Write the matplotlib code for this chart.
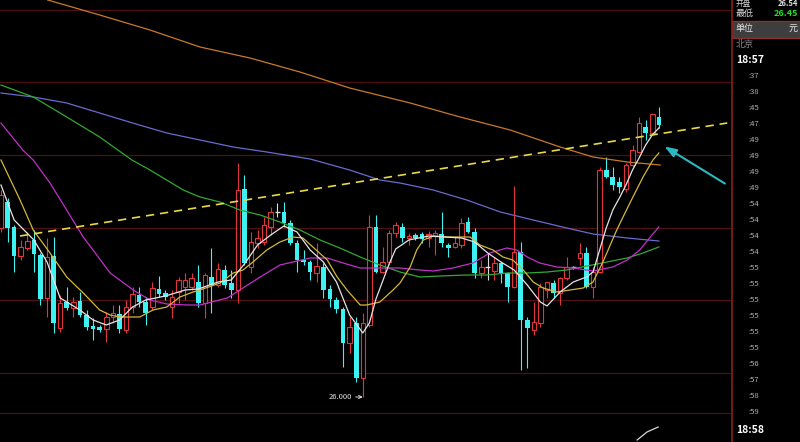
import matplotlib.pyplot as plt
from matplotlib.patches import Rectangle
from matplotlib.lines import Line2D

# candle data (price)
opens = [27.69, 27.95, 27.70, 27.41, 27.49, 27.57, 27.42, 26.99, 27.41, 26.69,
         26.95, 26.89, 26.96, 26.82, 26.71, 26.70, 26.68, 26.80, 26.83, 26.67,
         26.90, 27.02, 26.95, 26.90, 27.08, 27.04, 26.90, 27.05, 27.10, 27.10,
         27.15, 26.94, 27.20, 27.12, 27.27, 27.14, 27.07, 28.08, 27.30, 27.54,
         27.55, 27.70, 27.85, 27.85, 27.74, 27.54, 27.37, 27.35, 27.24, 27.30,
         27.08, 26.97, 26.88, 26.54, 26.74, 26.19, 26.72, 27.70, 27.25, 27.35,
         27.64, 27.70, 27.59, 27.62, 27.63, 27.59, 27.61, 27.63, 27.52, 27.50,
         27.52, 27.75, 27.65, 27.24, 27.30, 27.26, 27.34, 27.24, 27.10, 27.45,
         26.77, 26.67, 26.74, 27.07, 27.14, 27.04, 27.19, 27.30, 27.39, 27.44,
         27.10, 27.25, 28.27, 28.20, 28.15, 28.08, 28.32, 28.45, 28.70, 28.64,
         28.80]
highs = [28.07, 27.99, 27.72, 27.57, 27.65, 27.67, 27.44, 27.59, 27.60, 27.02,
         27.10, 27.00, 27.05, 26.87, 26.79, 26.72, 26.85, 26.92, 26.92, 26.97,
         27.10, 27.10, 27.00, 27.15, 27.21, 27.07, 27.07, 27.20, 27.24, 27.24,
         27.32, 27.24, 27.49, 27.34, 27.32, 27.27, 28.34, 28.22, 27.65, 27.67,
         27.80, 27.90, 27.94, 27.95, 27.77, 27.57, 27.47, 27.37, 27.54, 27.34,
         27.12, 27.00, 26.90, 26.80, 26.80, 26.84, 27.82, 27.82, 27.50, 27.67,
         27.75, 27.74, 27.64, 27.64, 27.65, 27.66, 27.67, 27.85, 27.54, 27.60,
         27.79, 27.80, 27.69, 27.37, 27.44, 27.40, 27.35, 27.25, 28.11, 27.55,
         26.80, 26.95, 27.14, 27.15, 27.17, 27.20, 27.40, 27.31, 27.54, 27.50,
         27.30, 28.30, 28.40, 28.30, 28.20, 28.34, 28.52, 28.80, 28.77, 28.84,
         28.90]
lows = [27.65, 27.55, 27.25, 27.37, 27.47, 27.25, 26.92, 26.80, 26.64, 26.65,
        26.87, 26.80, 26.80, 26.67, 26.57, 26.65, 26.55, 26.74, 26.64, 26.64,
        26.84, 26.90, 26.72, 26.87, 27.00, 26.97, 26.79, 26.94, 26.97, 27.07,
        26.90, 26.79, 26.84, 27.10, 27.09, 26.99, 26.94, 27.32, 27.24, 27.49,
        27.52, 27.62, 27.80, 27.70, 27.52, 27.25, 27.32, 27.17, 27.15, 26.99,
        26.90, 26.84, 26.30, 26.44, 26.15, 26.00, 26.70, 27.24, 27.24, 27.32,
        27.60, 27.55, 27.52, 27.57, 27.54, 27.50, 27.42, 27.50, 27.40, 27.49,
        27.49, 27.64, 27.19, 27.19, 27.17, 27.17, 27.14, 26.95, 27.09, 26.27,
        26.29, 26.62, 26.70, 26.99, 26.99, 26.92, 27.17, 27.28, 27.32, 27.09,
        26.99, 27.24, 28.19, 28.07, 28.04, 28.05, 28.30, 28.44, 28.57, 28.62,
        28.69]
closes = [28.02, 27.69, 27.41, 27.50, 27.56, 27.43, 26.98, 27.40, 26.74, 26.94,
          26.89, 26.95, 26.82, 26.70, 26.68, 26.67, 26.80, 26.84, 26.68, 26.90,
          27.03, 26.95, 26.84, 27.09, 27.03, 27.00, 27.00, 27.17, 27.17, 27.19,
          26.94, 27.22, 27.12, 27.28, 27.12, 27.07, 28.07, 27.34, 27.55, 27.59,
          27.72, 27.85, 27.85, 27.74, 27.54, 27.37, 27.35, 27.25, 27.31, 27.07,
          26.98, 26.88, 26.54, 26.70, 26.19, 26.74, 27.70, 27.25, 27.35, 27.64,
          27.72, 27.59, 27.61, 27.59, 27.58, 27.63, 27.64, 27.54, 27.49, 27.54,
          27.74, 27.65, 27.24, 27.30, 27.30, 27.34, 27.24, 27.10, 27.45, 26.77,
          26.69, 26.75, 27.10, 27.15, 27.04, 27.19, 27.30, 27.30, 27.44, 27.10,
          27.25, 28.27, 28.20, 28.12, 28.10, 28.32, 28.47, 28.74, 28.64, 28.83,
          28.72]

# moving average lines (candle index, price)
ma5_x = [0, 2, 5, 7, 9, 10, 12, 14, 16, 18, 20, 22, 25, 28, 30, 33, 35, 37, 39, 41,
         43, 45, 47, 49, 51, 53, 55, 56, 57, 59, 60, 62, 65, 70, 72, 74, 76, 78, 80, 82,
         83, 85, 87, 89, 90, 91, 92, 93, 94, 95, 96, 97, 98, 99, 100]
ma5_y = [28.12, 27.77, 27.57, 27.35, 26.99, 26.95, 26.87, 26.77, 26.72, 26.77,
         26.90, 26.97, 27.01, 27.07, 27.08, 27.15, 27.17, 27.33, 27.52, 27.62,
         27.71, 27.65, 27.47, 27.35, 27.15, 26.82, 26.64, 26.74, 26.98, 27.33,
         27.48, 27.57, 27.61, 27.59, 27.55, 27.44, 27.35, 27.27, 27.12, 26.95,
         26.91, 27.05, 27.15, 27.20, 27.25, 27.47, 27.69, 27.87, 27.99, 28.12,
         28.27, 28.39, 28.52, 28.62, 28.69]
ma10_x = [0, 2.9, 4.9, 7.45, 10, 12.5, 15, 16.6, 18.1, 21.1, 23.1, 25.2, 27.2, 29.2,
          30.25, 33.3, 35.3, 36.8, 38.3, 40.4, 42.4, 44.4, 45.9, 47.4, 49.6, 51.1,
          52.6, 54.6, 55.6, 57.6, 59.6, 60.65, 62.2, 63.2, 64.2, 65.7, 67.8, 69.8,
          71.3, 72.8, 74.8, 76.3, 77.8, 79.4, 80.9, 82.4, 84.5, 86.5, 88.5, 90,
          91.5, 93.6, 95.6, 97.6, 99.1, 100]
ma10_y = [28.37, 27.97, 27.67, 27.44, 27.20, 27.04, 26.87, 26.82, 26.80, 26.80,
          26.87, 26.90, 27.00, 27.05, 27.07, 27.14, 27.24, 27.27, 27.35, 27.47,
          27.55, 27.60, 27.59, 27.50, 27.37, 27.20, 27.07, 26.92, 26.92, 26.95,
          27.07, 27.14, 27.30, 27.47, 27.57, 27.61, 27.60, 27.60, 27.60, 27.52,
          27.47, 27.40, 27.37, 27.27, 27.15, 27.09, 27.05, 27.07, 27.09, 27.15,
          27.35, 27.67, 27.94, 28.20, 28.37, 28.44]
ma20_x = [0, 3.3, 4.9, 7.45, 12.5, 16.6, 20.1, 22.65, 25.2, 28.3, 30.25, 34.4, 36.3,
          39.4, 42.4, 44.4, 47, 49.6, 51.5, 54.6, 58.7, 60.65, 63.7, 65.7, 68.7,
          71.75, 74.3, 76.9, 78.4, 80, 81.9, 84.5, 87, 90, 93, 95.2, 97.1, 98.7, 100]
ma20_y = [28.74, 28.47, 28.37, 28.14, 27.60, 27.24, 27.07, 26.97, 26.93, 26.92,
          26.92, 26.99, 27.07, 27.20, 27.32, 27.35, 27.39, 27.39, 27.35, 27.29,
          27.29, 27.29, 27.27, 27.26, 27.29, 27.34, 27.44, 27.49, 27.47, 27.40,
          27.34, 27.30, 27.29, 27.26, 27.30, 27.37, 27.47, 27.60, 27.70]
ma30_x = [0, 4.9, 10, 15, 19.9, 22.65, 27.7, 30.25, 33.3, 36.3, 39.4, 42.4, 45.45,
          48.5, 51.5, 54.6, 57.6, 60.65, 63.7, 66.7, 70.8, 73.9, 76.9, 80, 83, 86,
          89.1, 92.1, 95.2, 97.6, 100]
ma30_y = [29.12, 29.00, 28.80, 28.60, 28.37, 28.27, 28.07, 28.00, 27.95, 27.87,
          27.82, 27.75, 27.67, 27.57, 27.49, 27.40, 27.32, 27.25, 27.20, 27.21,
          27.22, 27.22, 27.24, 27.24, 27.25, 27.27, 27.31, 27.35, 27.39, 27.44, 27.50]
ma60_x = [0, 4.9, 10, 15, 20, 25.2, 30.25, 35.3, 40.4, 47, 53, 57.6, 60.65, 65.7,
          70.8, 75.9, 80.9, 86, 90, 95.2, 100]
ma60_y = [29.04, 29.00, 28.94, 28.84, 28.74, 28.64, 28.57, 28.50, 28.45, 28.38,
          28.27, 28.17, 28.14, 28.07, 27.97, 27.85, 27.77, 27.69, 27.63, 27.59, 27.56]
ma250_x = [7.1, 15, 22.65, 30.25, 37.85, 45.45, 53, 62.2, 69.8, 77.4, 85, 90, 95.2, 100.2]
ma250_y = [29.97, 29.82, 29.67, 29.50, 29.39, 29.25, 29.09, 28.94, 28.80, 28.67,
           28.50, 28.40, 28.35, 28.32]

# hand drawn trend line and arrow
trend_x = [2.9, 110.4]
trend_y = [27.61, 28.74]
arrow_tail = (110.4, 28.12)
arrow_head = (100.5, 28.52)

# piece of the lower indicator panel
sub_x = [96.7, 98.2, 99.9]
sub_y = [25.57, 25.65, 25.70]

grid_levels = [29.87, 29.15, 28.42, 27.69, 26.97, 26.24, 25.84]

times = [':37', ':38', ':45', ':47', ':49', ':49', ':49', ':49', ':54', ':54', ':54',
         ':54', ':55', ':55', ':55', ':55', ':55', ':55', ':56', ':57', ':58', ':59']

UP = '#e0363a'
DOWN = '#3cf2f2'

plt.rcParams['font.family'] = ['Noto Sans CJK SC', 'DejaVu Sans']

fig = plt.figure(figsize=(8, 4.42), dpi=100, facecolor='black')
ax = fig.add_axes([0, 0, 731 / 800, 1])
ax.set_facecolor('black')
ax.set_xlim(-0.15, 110.97)
ax.set_ylim(25.55, 29.97)
ax.axis('off')

for g in grid_levels:
    ax.axhline(g, color='#4e1010', lw=0.9, zorder=0)

# candles
w = 0.7
for i in range(len(opens)):
    o, h, l, c = opens[i], highs[i], lows[i], closes[i]
    if c > o:
        ax.vlines(i, c, h, color=UP, lw=0.8, zorder=2)
        ax.vlines(i, l, o, color=UP, lw=0.8, zorder=2)
        ax.bar(i, c - o, w, bottom=o, facecolor='black', edgecolor=UP, lw=0.8, zorder=2)
    elif c < o:
        ax.vlines(i, l, h, color=DOWN, lw=0.8, zorder=2)
        ax.bar(i, o - c, w, bottom=c, color=DOWN, lw=0, zorder=2)
    else:
        ax.vlines(i, l, h, color='#dddddd', lw=0.8, zorder=2)
        ax.hlines(o, i - w / 2, i + w / 2, color='#dddddd', lw=1.0, zorder=2)

# moving averages
ax.plot(ma250_x, ma250_y, color='#c87a2c', lw=0.9, zorder=3)
ax.plot(ma60_x, ma60_y, color='#6a6ad0', lw=0.9, zorder=3)
ax.plot(ma30_x, ma30_y, color='#32a832', lw=0.9, zorder=3)
ax.plot(ma20_x, ma20_y, color='#c030c8', lw=0.9, zorder=3)
ax.plot(ma10_x, ma10_y, color='#d4b83a', lw=0.9, zorder=3)
ax.plot(ma5_x, ma5_y, color='#e8e4e8', lw=0.9, zorder=3)

ax.plot(trend_x, trend_y, color='#e8d848', lw=1.2, ls=(0, (5, 3.5)), zorder=4)
ax.annotate('', xy=arrow_head, xytext=arrow_tail,
            arrowprops=dict(arrowstyle='-|>,head_length=0.7,head_width=0.25',
                            color='#2cb8c2', lw=1.5), zorder=4)
ax.plot(sub_x, sub_y, color='#d8d8d8', lw=0.9)

# lowest price mark
lo = lows.index(min(lows))
ax.annotate('%.3f' % lows[lo], xy=(lo, lows[lo]), xytext=(lo - 1.7, lows[lo]),
            ha='right', va='center', color='#e0e0e0', fontsize=5.5,
            arrowprops=dict(arrowstyle='->', color='#e0e0e0', lw=0.7,
                            shrinkA=1, shrinkB=0))

# right side panel
fig.add_artist(Line2D([731.5 / 800] * 2, [0, 1], transform=fig.transFigure,
                      color='#8c1e1e', lw=1.2))
fig.add_artist(Rectangle((732 / 800, 1 - 38 / 442), 68 / 800, 17 / 442,
                         transform=fig.transFigure, facecolor='#3e3e3e',
                         edgecolor='#8a3030', lw=1))


def ptext(x, y, s, **kw):
    fig.text(x / 800, 1 - y / 442, s, va='center', **kw)


ptext(736, 4, '开盘', color='#d0d0d0', fontsize=5.5)
ptext(798, 4, '26.54', color='#e0e0e0', fontsize=5.5, fontweight='bold', ha='right')
ptext(736, 13, '最低', color='#d8d8d8', fontsize=6.5)
ptext(798, 13, '26.45', color='#22dd22', fontsize=6.5, fontweight='bold', ha='right')
ptext(736, 29, '单位', color='#e8e8e8', fontsize=6.5)
ptext(789, 29, '元', color='#e8e8e8', fontsize=6.5)
ptext(736, 44, '北京', color='#8a8a8a', fontsize=6.5)
ptext(736, 60, '18:57', color='white', fontsize=7.5, fontweight='bold')
for k, t in enumerate(times):
    ptext(748, 76 + 16 * k, t, color='#b0b0b0', fontsize=5.5)
ptext(736, 430, '18:58', color='white', fontsize=7.5, fontweight='bold')

fig.savefig('out.png', dpi=100, facecolor='black')
